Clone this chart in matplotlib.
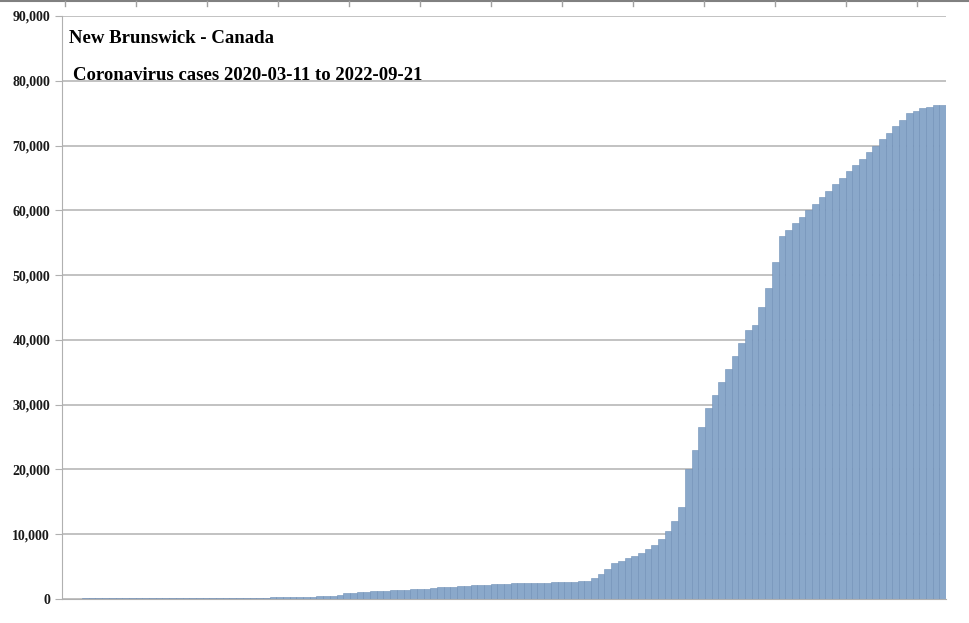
import matplotlib
matplotlib.use("Agg")
import matplotlib.pyplot as plt
from matplotlib.ticker import FuncFormatter

# weekly cumulative cases, 2020-03-11 .. 2022-09-21
cases = [
    2, 10, 45, 95, 115, 118, 118, 120, 120, 120,
    120, 121, 122, 125, 135, 160, 165, 166, 168, 170,
    175, 180, 185, 188, 190, 192, 195, 198, 200, 205,
    215, 240, 270, 300, 320, 340, 360, 380, 400, 420,
    480, 620, 850, 1000, 1100, 1150, 1200, 1250, 1300, 1350,
    1400, 1450, 1500, 1550, 1620, 1700, 1780, 1850, 1900, 1980,
    2050, 2100, 2150, 2220, 2300, 2350, 2380, 2400, 2420, 2430,
    2450, 2480, 2500, 2550, 2600, 2650, 2700, 2750, 2800, 3300,
    3900, 4700, 5500, 5900, 6300, 6600, 7100, 7700, 8400, 9300,
    10500, 12000, 14200, 20000, 23000, 26500, 29500, 31500, 33500, 35500,
    37500, 39500, 41500, 42300, 45000, 48000, 52000, 56000, 57000, 58000,
    59000, 60000, 61000, 62000, 63000, 64000, 65000, 66000, 67000, 68000,
    69000, 70000, 71000, 72000, 73000, 74000, 75000, 75400, 75800, 76000,
    76200, 76300,
]
yticks = list(range(0, 90001, 10000))
title1 = "New Brunswick - Canada"
title2 = "Coronavirus cases 2020-03-11 to 2022-09-21"

fig = plt.figure(figsize=(9.7, 6.23), dpi=100)
ax = fig.add_axes([62/970, 24/623, 884/970, 583/623])
x = list(range(len(cases)))
ax.bar(x, cases, width=1.0, color="#8aa8ca", edgecolor="#6f8fb6", linewidth=0.4, zorder=2)
ax.set_xlim(-0.5, len(cases) - 0.5)
ax.set_ylim(0, 90000)
ax.set_yticks(yticks)
ax.yaxis.set_major_formatter(FuncFormatter(lambda v, p: f"{int(v):,}"))
ax.grid(axis="y", color="#b8b8b8", linewidth=1.2, zorder=1)
ax.set_xticks([])
for s in ["top", "right"]:
    ax.spines[s].set_visible(False)
ax.spines["left"].set_color("#b0b0b0")
ax.spines["bottom"].set_color("#b0b0b0")
ax.tick_params(axis="y", length=5, color="#b0b0b0", labelsize=10)
for lab in ax.get_yticklabels():
    lab.set_fontfamily("Liberation Serif")
    lab.set_fontweight("bold")
    lab.set_color("#1a1a1a")
ax.text(0.008, 0.962, title1, transform=ax.transAxes, fontsize=13.5,
        fontfamily="Liberation Serif", fontweight="bold", va="center")
ax.text(0.012, 0.898, title2, transform=ax.transAxes, fontsize=13.5,
        fontfamily="Liberation Serif", fontweight="bold", va="center")
# top border with ticks
fig.add_artist(plt.Line2D([0, 1], [0.999, 0.999], color="#808080", linewidth=1.5))
for px in range(65, 960, 71):
    fig.add_artist(plt.Line2D([px/970, px/970], [0.99, 0.999], color="#a0a0a0", linewidth=1))
fig.savefig("out.png", dpi=100)
